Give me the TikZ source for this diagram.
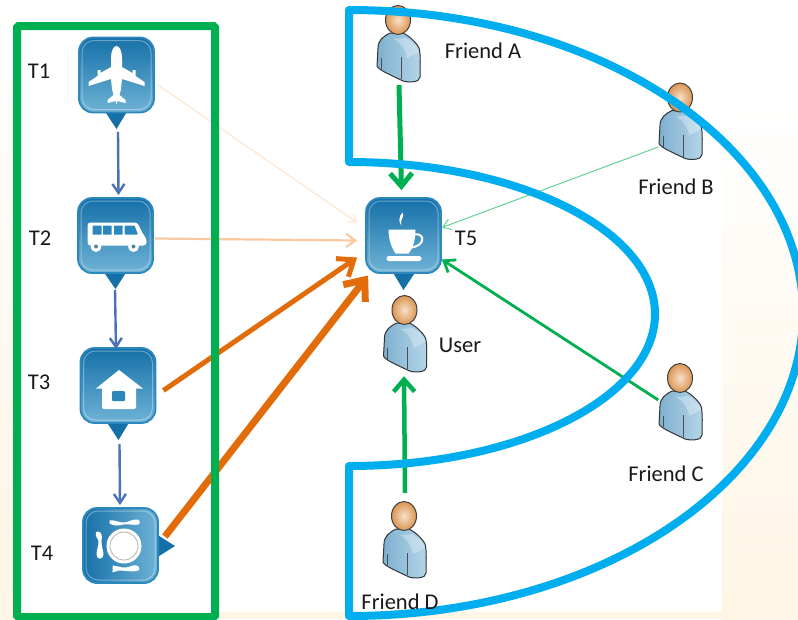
\documentclass[tikz,border=0pt]{standalone}
\usepackage{fontspec}
\setmainfont{Carlito}
\usetikzlibrary{arrows.meta,calc}
\definecolor{gbox}{HTML}{00B050}
\definecolor{cblue}{HTML}{00AEEF}
\definecolor{cream}{HTML}{FEF5E4}
\definecolor{flow}{HTML}{4A72B5}
\definecolor{org}{HTML}{E36C0A}
\definecolor{softorg}{HTML}{F9C9A0}
\definecolor{faintorg}{HTML}{FCE6D4}
\definecolor{tiletop}{HTML}{1570A8}
\definecolor{tilebot}{HTML}{6FB3D6}
\definecolor{tileedge}{HTML}{2C88BC}
\definecolor{bodyl}{HTML}{7FB0D0}
\definecolor{bodyr}{HTML}{B4D6E8}
\definecolor{headin}{HTML}{F7E0C8}
\definecolor{headout}{HTML}{DB9552}
\tikzset{
  x=1pt,y=-1pt,
  lbl/.style={font=\fontsize{22.5}{23}\selectfont,text=black!90,inner sep=0pt},
  tile/.style={minimum width=75pt,minimum height=75pt,inner sep=0pt,rounded corners=14pt,
     draw=tileedge,line width=1.8pt,top color=tiletop,bottom color=tilebot},
  tilesw/.style={tile,top color=tiletop,bottom color=tiletop,left color=tiletop,right color=tilebot},
  personbox/.style={minimum width=43pt,minimum height=77pt,inner sep=0pt},
  tipfill/.style={fill=tiletop},
  ico/.style={fill=white,draw=none},
  flowline/.style={draw=flow,line width=2.4pt,-{Straight Barb[length=9pt,width=12pt,line width=2.4pt]}},
  faintline/.style={draw=faintorg,line width=1.2pt,-{Straight Barb[length=7pt,width=10pt,line width=1.2pt]}},
  softline/.style={draw=softorg,line width=2.2pt,-{Straight Barb[length=9pt,width=13pt,line width=2.2pt]}},
  midorg/.style={draw=org,line width=5pt,-{Straight Barb[length=14pt,width=22pt,line width=5pt]}},
  bigorg/.style={draw=org,line width=7pt,-{Straight Barb[length=17pt,width=28pt,line width=7pt]}},
  gthick/.style={draw=gbox,line width=5pt,-{Straight Barb[length=13pt,width=22pt,line width=5pt]}},
  gmid/.style={draw=gbox,line width=2.8pt,-{Straight Barb[length=10pt,width=15pt,line width=2.8pt]}},
  gthin/.style={draw=gbox!60!white,line width=1pt,-{Straight Barb[length=8pt,width=11pt,line width=1pt]}},
  pics/persona/.style={code={
    \shade[left color=bodyl,right color=bodyr,draw=black!80,line width=1pt,line join=round]
      (-8,13) .. controls (-14,16) and (-20,20) .. (-20,28) -- (-21,46)
      .. controls (-20,50) and (-5,56) .. (5,61) .. controls (12,63) and (22,62) .. (22,57)
      .. controls (22,48) and (23,35) .. (21,28) .. controls (18,22) and (11,16) .. (5,13) -- cycle;
    \fill[white,opacity=.3] (8,18) .. controls (15,22) and (20,27) .. (21,32) -- (9,38) .. controls (8,30) and (4,24) .. (-4,19) -- cycle;
    \draw[black!70,line width=.8pt] (-17,38) -- (-17,49) (3,37) -- (3,59);
    \shade[inner color=headin,outer color=headout,draw=black!75,line width=1pt]
      (0,0) ellipse [x radius=12.5,y radius=14.5];
  }},
  pics/bevel/.style={code={
    \draw[white,opacity=.35,line width=1pt,rounded corners=12pt] (-34.5,-34.5) rectangle (34.5,34.5);
  }},
  pics/plane/.style={code={
    \fill[ico] (0,-29) .. controls (-3,-29) and (-5.5,-24) .. (-5.5,-17) -- (-5.5,-8) -- (-16,-2) -- (-16,-5) -- (-19,-5) -- (-19,1) -- (-28,7)
      -- (-28,11) -- (-5.5,4) -- (-4.5,14) -- (-3,20) -- (-9,25) -- (-9,28) -- (-1,26) -- (0,29)
      -- (1,26) -- (9,28) -- (9,25) -- (3,20) -- (4.5,14) -- (5.5,4) -- (28,11) -- (28,7) -- (19,1) -- (19,-5) -- (16,-5) -- (16,-2) -- (5.5,-8)
      -- (5.5,-17) .. controls (5.5,-24) and (3,-29) .. (0,-29) -- cycle;
  }},
  pics/bus/.style={code={
    \fill[ico,rounded corners=3pt] (-28,-13) -- (22,-13) -- (27,-2) -- (31,3) -- (31,10) -- (-28,10) -- cycle;
    \fill[tileedge] (-23,-10) rectangle (-14,-1) (-12.5,-10) rectangle (-4,-1) (-1.5,-10) rectangle (7,-1);
    \fill[tileedge,rounded corners=1pt] (9,-10) -- (19,-10) -- (22.5,-1) -- (9,-1) -- cycle;
    \fill[white] (-19.5,11) circle[radius=5.5] (18,11) circle[radius=5.5];
    \fill[tileedge!60!gray] (-19.5,11) circle[radius=2] (18,11) circle[radius=2];
  }},
  pics/hut/.style={code={
    \fill[ico,rounded corners=2pt] (-16,2) -- (18,2) -- (18,23.5) -- (-16,23.5) -- cycle;
    \fill[ico] (1,-15.5) -- (25,3) -- (-22,3) -- cycle;
    \fill[tileedge,rounded corners=1pt] (-6,5.5) rectangle (7,15.5);
  }},
  pics/dish/.style={code={
    \fill[white] (3.5,0.5) circle[radius=17.5];
    \draw[black!30,line width=.8pt] (3.5,0.5) circle[radius=14];
    \fill[ico] (-11,-25) .. controls (-6,-26) and (-2,-23) .. (3,-23) .. controls (8,-23) and (12,-27) .. (18,-26)
       .. controls (20,-24) and (20,-22) .. (18,-21) .. controls (12,-20) and (8,-22) .. (3,-21) .. controls (-2,-20) and (-6,-19) .. (-11,-22) -- cycle;
    \fill[ico] (-23,-14) .. controls (-19,-14) and (-18,-10) .. (-19,-5) .. controls (-19.5,0) and (-17,5) .. (-17,9) .. controls (-17,14) and (-24,15) .. (-24,9)
       .. controls (-24,4) and (-21.5,0) .. (-22,-5) .. controls (-25,-9) and (-26,-14) .. (-23,-14) -- cycle;
    \fill[ico] (-8,20) -- (-2,21) .. controls (3,23) and (8,22) .. (12,20) .. controls (18,19) and (20,22) .. (18,25)
       .. controls (12,27) and (6,25) .. (-2,25) -- (-8,27) -- cycle;
  }},
  pics/cup/.style={code={
    \fill[ico] (-15,-6) -- (12,-6) .. controls (12,4) and (10,12) .. (5,18) -- (-8,18) .. controls (-12,12) and (-15,4) .. (-15,-6) -- cycle;
    \draw[white,line width=2pt] (11,-1) .. controls (22,-3) and (22,11) .. (7,12);
    \fill[ico,rounded corners=2.5pt] (-17,20.5) rectangle (18,25.5);
    \fill[ico] (-1,-23) .. controls (2,-19) and (-4,-17) .. (-2,-10) .. controls (-5,-13) and (-5,-19) .. (-1,-23) -- cycle;
  }},
}
\begin{document}
\begin{tikzpicture}
\useasboundingbox (0,0) rectangle (798,619);
\clip (0,0) rectangle (798,619);
\fill[white] (0,0) rectangle (798,619);
\shade[top color=white,bottom color=cream] (0,0) rectangle (21,619);
\shade[top color=white,bottom color=cream] (722,100) rectangle (798,619);
\fill[cream] (0,612) rectangle (798,619);

% tiles
\fill[tipfill] (104,110) -- (128,110) -- (116.5,129) -- cycle;
\fill[tipfill] (103,271) -- (127,271) -- (115.5,289) -- cycle;
\fill[tipfill] (106,421) -- (130,421) -- (118.5,440) -- cycle;
\fill[tipfill] (156,534) -- (175,546) -- (156,558) -- cycle;
\fill[tipfill] (392,271) -- (416,271) -- (403.5,290) -- cycle;
\node[tile] (t1) at (116.5,75) {};
\node[tile] (t2) at (115.5,235.5) {};
\node[tile] (t3) at (118,385.5) {};
\node[tilesw] (t4) at (120.5,545.5) {};
\node[tile] (t5) at (403.5,235.5) {};
\foreach \t in {t1,t2,t3,t4,t5} {\pic at (\t) {bevel};}
\pic at (t1) {plane};
\pic at (t2) {bus};
\pic at (t3) {hut};
\pic at (t4) {dish};
\pic at (t5) {cup};

% people
\node[personbox] (fa) at (398.5,44.5) {};
\node[personbox] (fb) at (680.5,122) {};
\node[personbox] (fc) at (680.5,402.5) {};
\node[personbox] (us) at (405,334.5) {};
\node[personbox] (fd) at (404.5,540.5) {};
\pic at ($(fa)+(-.5,-24.5)$) {persona};
\pic at ($(fb)+(-.5,-24.5)$) {persona};
\pic at ($(fc)+(-.5,-24.5)$) {persona};
\pic at ($(us)+(-.5,-24.5)$) {persona};
\pic at ($(fd)+(-.5,-24.5)$) {persona};

% connectors
\draw[flowline] ($(t1.south)+(1.5,18.5)$) -- ($(t2.north)+(3,-2)$);
\draw[flowline] ($(t2.south)+(-.5,16)$) -- ($(t3.north)+(-2,2)$);
\draw[flowline] ($(t3.south)+(1.5,20)$) -- ($(t4.north)+(-.5,-2)$);
\draw[faintline] ($(t1.east)+(3,10)$) -- ($(t5.west)+(-8,-13)$);
\draw[softline] ($(t2.east)+(1,3)$) -- ($(t5.west)+(-8,5)$);
\draw[midorg] ($(t3.east)+(7,5)$) -- ($(t5.west)+(-8,22)$);
\draw[bigorg] ($(t4.east)+(6,-9)$) -- ($(t5.west)+(3,40)$);
\draw[gthick] ($(fa.south)+(.5,2)$) -- ($(t5.north)+(-2,-7)$);
\draw[gthin] ($(fb.west)+(-.5,25)$) -- ($(t5.east)+(0,-8)$);
\draw[gmid] ($(fc.west)+(-.5,-2.5)$) -- ($(t5.east)+(0,24)$);
\draw[gmid,line width=4.5pt,-{Straight Barb[length=12pt,width=21pt,line width=4.5pt]}] ($(fd.north)+(.5,-9)$) -- ($(us.south)+(-1,3)$);

% frames
\node[draw=gbox,line width=8pt,rounded corners=1.5pt,minimum width=198pt,minimum height=591pt,inner sep=0pt] (grp) at (116,321.5) {};
\coordinate (ca) at (349,162);
\coordinate (cb) at (349,466);
\draw[draw=cblue,line width=8pt,line join=round]
  (ca) -- (349,10) .. controls (599.7,10) and (803,145.7) .. (803,313)
  .. controls (803,480.3) and (599.7,616) .. (349,616)
  -- (cb) .. controls (518,466) and (655,398) .. (655,314)
  .. controls (655,230) and (518,162) .. (ca) -- cycle;

% labels
\node[lbl] (l1) at (39,71) {T1};
\node[lbl] (l2) at (40,238) {T2};
\node[lbl] (l3) at (39,382) {T3};
\node[lbl] (l4) at (42,553) {T4};
\node[lbl] (l5) at (466,238) {T5};
\node[lbl] (lu) at (460,345) {User};
\node[lbl] (la) at (483,51) {Friend A};
\node[lbl] (lb) at (676,187) {Friend B};
\node[lbl] (lc) at (666,474) {Friend C};
\node[lbl] (ld) at (400,602) {Friend D};
\end{tikzpicture}
\end{document}
